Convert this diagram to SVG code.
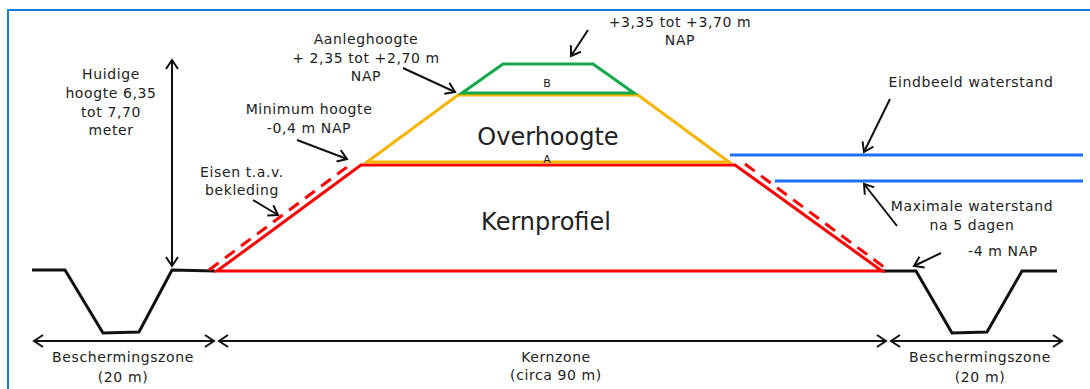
<svg xmlns="http://www.w3.org/2000/svg" width="1090" height="389" viewBox="0 0 1090 389">
<defs>
<marker id="ah" viewBox="0 0 12 14" markerWidth="12" markerHeight="14" refX="10" refY="7" orient="auto-start-reverse" markerUnits="userSpaceOnUse">
<path d="M1,1 L10,7 L1,13" fill="none" stroke="#111" stroke-width="2"/>
</marker>
</defs>
<style>
.t{font-family:"DejaVu Sans",Verdana,sans-serif;font-size:14px;fill:#222;letter-spacing:0.6px;text-anchor:middle}
.big{font-family:"DejaVu Sans",Verdana,sans-serif;font-size:24px;fill:#222;text-anchor:middle}
.sm{font-family:"DejaVu Sans",Verdana,sans-serif;font-size:11px;fill:#222;text-anchor:middle}
.arr{fill:none;stroke:#111;stroke-width:2;marker-end:url(#ah)}
.dim{fill:none;stroke:#111;stroke-width:2;marker-start:url(#ah);marker-end:url(#ah)}
.ground{fill:none;stroke:#111;stroke-width:3;stroke-linejoin:miter}
.red{fill:none;stroke:#ff0000;stroke-width:3}
.redd{fill:none;stroke:#ff0000;stroke-width:3;stroke-dasharray:12,8}
.yel{fill:none;stroke:#f7b500;stroke-width:3}
.grn{fill:none;stroke:#14a84a;stroke-width:3}
.blue{fill:none;stroke:#1f6ff0;stroke-width:3}
</style>
<rect width="1090" height="389" fill="#ffffff"/>
<g id="frame"><path d="M8,389 L8,10 L1090,10" fill="none" stroke="#1a7fd4" stroke-width="2"/></g>

<g id="ground-left"><path class="ground" d="M32,270 L65,270 L103,333 L139,332 L172,270 L215,271"/></g>
<g id="ground-right"><path class="ground" d="M882,271 L916,271 L952,333 L987,332 L1022,271 L1057,271"/></g>

<g id="kernprofiel">
<path class="red" d="M217,271 L361,165 L735,165 L882,271 Z"/>
<text class="big" x="546" y="230">Kernprofiel</text>
</g>
<g id="bekleding-left"><path class="redd" d="M209,270 L351,164"/></g>
<g id="bekleding-right"><path class="redd" d="M745,164 L888,270"/></g>

<g id="overhoogte">
<path class="yel" d="M367,162 L458,95 L638,95 L729,162 Z"/>
<text class="big" x="548" y="145">Overhoogte</text>
<text class="sm" x="547" y="163">A</text>
</g>

<g id="aanleg-b">
<path class="grn" d="M462,93 L503,64 L593,64 L634,93 Z"/>
<text class="sm" x="547" y="87">B</text>
</g>

<g id="water-eindbeeld"><path class="blue" d="M730,155 L1083,155"/></g>
<g id="water-maximaal"><path class="blue" d="M775,181 L1083,181"/></g>

<g id="connectors">
<path class="dim" d="M172,60 L172,266"/>
<path class="dim" d="M34,341 L214,341"/>
<path class="dim" d="M219,341 L886,341"/>
<path class="dim" d="M891,341 L1062,341"/>
<path class="arr" d="M403,68 L455,92"/>
<path class="arr" d="M588,30 L571,56"/>
<path class="arr" d="M297,140 L347,159"/>
<path class="arr" d="M253,200 L278,215"/>
<path class="arr" d="M890,99 L864,152"/>
<path class="arr" d="M897,226 L864,184"/>
<path class="arr" d="M941,253 L914,266"/>
</g>

<g id="label-huidige">
<text class="t" x="111" y="79">Huidige</text>
<text class="t" x="111" y="98">hoogte 6,35</text>
<text class="t" x="111" y="117">tot 7,70</text>
<text class="t" x="111" y="135">meter</text>
</g>
<g id="label-aanleg">
<text class="t" x="366" y="44">Aanleghoogte</text>
<text class="t" x="366" y="63">+ 2,35  tot +2,70 m</text>
<text class="t" x="366" y="81">NAP</text>
</g>
<g id="label-top">
<text class="t" x="680" y="27">+3,35 tot +3,70 m</text>
<text class="t" x="680" y="45">NAP</text>
</g>
<g id="label-minimum">
<text class="t" x="309" y="114">Minimum  hoogte</text>
<text class="t" x="309" y="133">-0,4 m  NAP</text>
</g>
<g id="label-eisen">
<text class="t" x="242" y="177">Eisen t.a.v.</text>
<text class="t" x="242" y="195">bekleding</text>
</g>
<g id="label-eindbeeld"><text class="t" x="971" y="87">Eindbeeld  waterstand</text></g>
<g id="label-maximale">
<text class="t" x="972" y="211">Maximale waterstand</text>
<text class="t" x="972" y="230">na 5 dagen</text>
</g>
<g id="label-nap"><text class="t" x="1003" y="256">-4 m  NAP</text></g>
<g id="label-bescherming-left">
<text class="t" x="123" y="362">Beschermingszone</text>
<text class="t" x="123" y="382">(20 m)</text>
</g>
<g id="label-kernzone">
<text class="t" x="556" y="362">Kernzone</text>
<text class="t" x="556" y="380">(circa 90 m)</text>
</g>
<g id="label-bescherming-right">
<text class="t" x="980" y="362">Beschermingszone</text>
<text class="t" x="980" y="382">(20 m)</text>
</g>
</svg>
